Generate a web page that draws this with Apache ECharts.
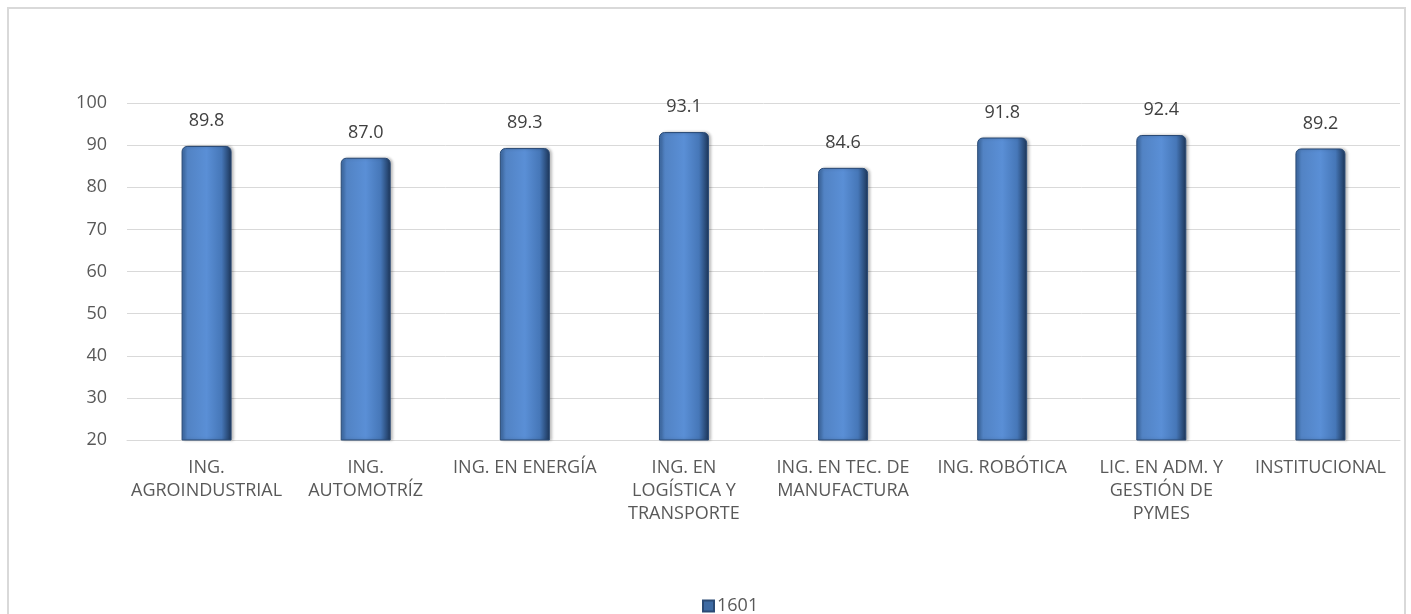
<!DOCTYPE html>
<html>
<head>
<meta charset="utf-8">
<script src="https://cdn.jsdelivr.net/npm/echarts@6/dist/echarts.min.js"></script>
<style>
html,body{margin:0;padding:0;background:#fff;}
#frame{position:absolute;left:7px;top:7px;width:1399px;height:620px;border:2px solid #d9d9d9;box-sizing:border-box;}
#chart{position:absolute;left:0;top:0;width:1411px;height:614px;}
</style>
</head>
<body>
<div id="frame"></div>
<div id="chart"></div>
<script>
const categories = [
  "ING.\nAGROINDUSTRIAL",
  "ING.\nAUTOMOTRÍZ",
  "ING. EN ENERGÍA",
  "ING. EN\nLOGÍSTICA Y\nTRANSPORTE",
  "ING. EN TEC. DE\nMANUFACTURA",
  "ING. ROBÓTICA",
  "LIC. EN ADM. Y\nGESTIÓN DE\nPYMES",
  "INSTITUCIONAL"
];
const seriesName = "1601";
const values = [89.8, 87.0, 89.3, 93.1, 84.6, 91.8, 92.4, 89.2];
const yMin = 20, yMax = 100, yStep = 10;

const chart = echarts.init(document.getElementById('chart'), null, {renderer: 'canvas'});
const barFill = new echarts.graphic.LinearGradient(0, 0, 1, 0, [
  {offset: 0, color: '#3d6aa3'},
  {offset: 0.12, color: '#5283c4'},
  {offset: 0.5, color: '#5a8fd6'},
  {offset: 0.8, color: '#4677b8'},
  {offset: 0.92, color: '#2c4f7e'},
  {offset: 1, color: '#1c3456'}
]);
chart.setOption({
  animation: false,
  textStyle: {fontFamily: '"Open Sans", "Noto Sans", sans-serif'},
  grid: {left: 127, right: 11, top: 103, bottom: 174, containLabel: false},
  legend: {
    top: 592, left: 697,
    itemWidth: 11, itemHeight: 11, itemGap: 6,
    icon: 'rect',
    textStyle: {color: '#595959', fontSize: 18, fontFamily: '"Open Sans", sans-serif', padding: [0, 0, 0, -2]},
    data: [{name: seriesName, itemStyle: {color: '#3d6aa3'}}]
  },
  xAxis: {
    type: 'category',
    data: categories,
    axisLine: {show: true, lineStyle: {color: '#d9d9d9', width: 1}},
    axisTick: {show: false},
    axisLabel: {color: '#595959', fontSize: 18, lineHeight: 23, margin: 16, interval: 0}
  },
  yAxis: {
    type: 'value',
    min: yMin, max: yMax, interval: yStep,
    axisLine: {show: false},
    axisTick: {show: false},
    splitLine: {lineStyle: {color: '#d9d9d9', width: 1}},
    axisLabel: {color: '#595959', fontSize: 18, margin: 20}
  },
  series: [{
    name: seriesName,
    type: 'bar',
    data: values,
    barWidth: 50,
    itemStyle: {
      color: barFill,
      borderColor: '#2a4a75',
      borderWidth: 1,
      borderRadius: [5, 5, 0, 0],
      shadowColor: 'rgba(0,0,0,0.25)',
      shadowBlur: 3,
      shadowOffsetX: 2
    },
    label: {
      show: true, position: 'top', distance: 16,
      color: '#404040', fontSize: 18,
      formatter: p => p.value.toFixed(1)
    }
  }]
});
</script>
</body>
</html>
